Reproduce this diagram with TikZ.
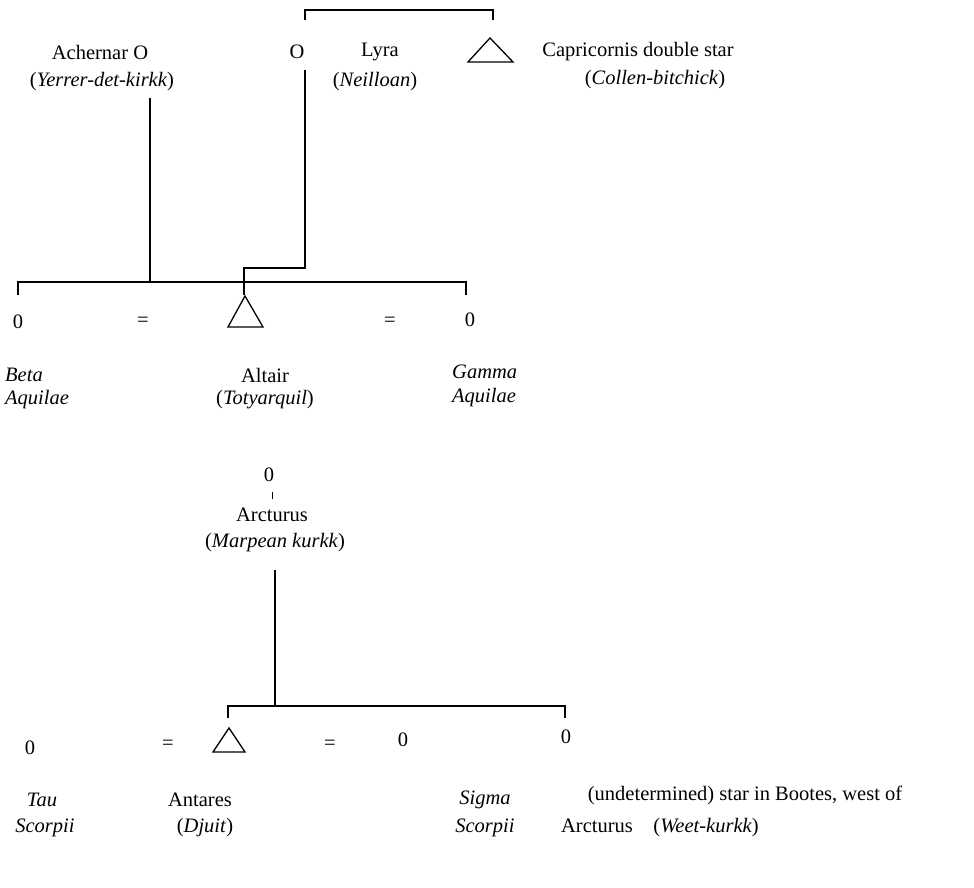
\documentclass[tikz,border=0pt]{standalone}
\usepackage{fontspec}
\setmainfont{Liberation Serif}
\begin{document}
\begin{tikzpicture}[x=1pt,y=-1pt,
  lbl/.style={inner sep=0pt,font=\fontsize{20.5}{23}\selectfont},
  ln/.style={line width=1.3pt},
  tri/.style={ln}]
\useasboundingbox (0,0) rectangle (974,888);
% top bracket
\coordinate (tbl) at (305,20); \coordinate (tbr) at (493,20);
\draw[ln] (tbl) -- (305,10) -- (493,10) -- (tbr);
\node[lbl] (ach) at (100,52) {Achernar O};
\node[lbl] (achy) at (102,82) {(\textit{Yerrer-det-kirkk})};
\node[lbl] (lyo) at (297,52) {O};
\node[lbl] (lyra) at (380,52) {Lyra};
\node[lbl] (lyray) at (375,82) {(\textit{Neilloan})};
\draw[tri] (468,62) -- (490,38) -- (513,62) -- cycle;
\node[lbl] (cap) at (638,52) {Capricornis double star};
\node[lbl] (capy) at (655,80) {(\textit{Collen-bitchick})};
% lines into Altair
\coordinate (a1) at (150,98); \coordinate (a2) at (150,282);
\draw[ln] (a1) -- (a2);
\coordinate (l1) at (305,70);
\draw[ln] (l1) -- (305,268) -- (244,268) -- (244,295);
\draw[ln] (18,295) -- (18,282) -- (466,282) -- (466,295);
\draw[tri] (228,327) -- (245,296) -- (263,327) -- cycle;
\node[lbl] (b0) at (18,322) {0};
\node[lbl] (e1) at (143,322) {=};
\node[lbl] (e2) at (390,322) {=};
\node[lbl] (g0) at (470,320) {0};
\node[lbl,anchor=west] (beta) at (5,375) {\textit{Beta}};
\node[lbl,anchor=west] (betaq) at (5,400) {\textit{Aquilae}};
\node[lbl] (alt) at (265,375) {Altair};
\node[lbl] (alty) at (265,400) {(\textit{Totyarquil})};
\node[lbl,anchor=west] (gam) at (452,372) {\textit{Gamma}};
\node[lbl,anchor=west] (gamq) at (452,398) {\textit{Aquilae}};
% lower
\node[lbl] (ar0) at (269,475) {0};
\draw[line width=1pt] (272,492) -- (272,499);
\node[lbl] (arc) at (272,515) {Arcturus};
\node[lbl] (arcy) at (275,543) {(\textit{Marpean kurkk})};
\coordinate (v1) at (275,570);
\draw[ln] (v1) -- (275,706);
\draw[ln] (228,718) -- (228,706) -- (565,706) -- (565,718);
\draw[tri] (213,752) -- (229,728) -- (245,752) -- cycle;
\node[lbl] (t0) at (30,748) {0};
\node[lbl] (e3) at (168,745) {=};
\node[lbl] (e4) at (330,745) {=};
\node[lbl] (s0) at (403,740) {0};
\node[lbl] (u0) at (566,737) {0};
\node[lbl] (tau) at (42,800) {\textit{Tau}};
\node[lbl] (taus) at (45,828) {\textit{Scorpii}};
\node[lbl] (ant) at (200,800) {Antares};
\node[lbl] (anty) at (205,828) {(\textit{Djuit})};
\node[lbl] (sig) at (485,800) {\textit{Sigma}};
\node[lbl] (sigs) at (485,828) {\textit{Scorpii}};
\node[lbl] (und) at (745,795) {(undetermined) star in Bootes, west of};
\node[lbl] (undy) at (660,828) {Arcturus\quad(\textit{Weet-kurkk})};
\end{tikzpicture}
\end{document}
